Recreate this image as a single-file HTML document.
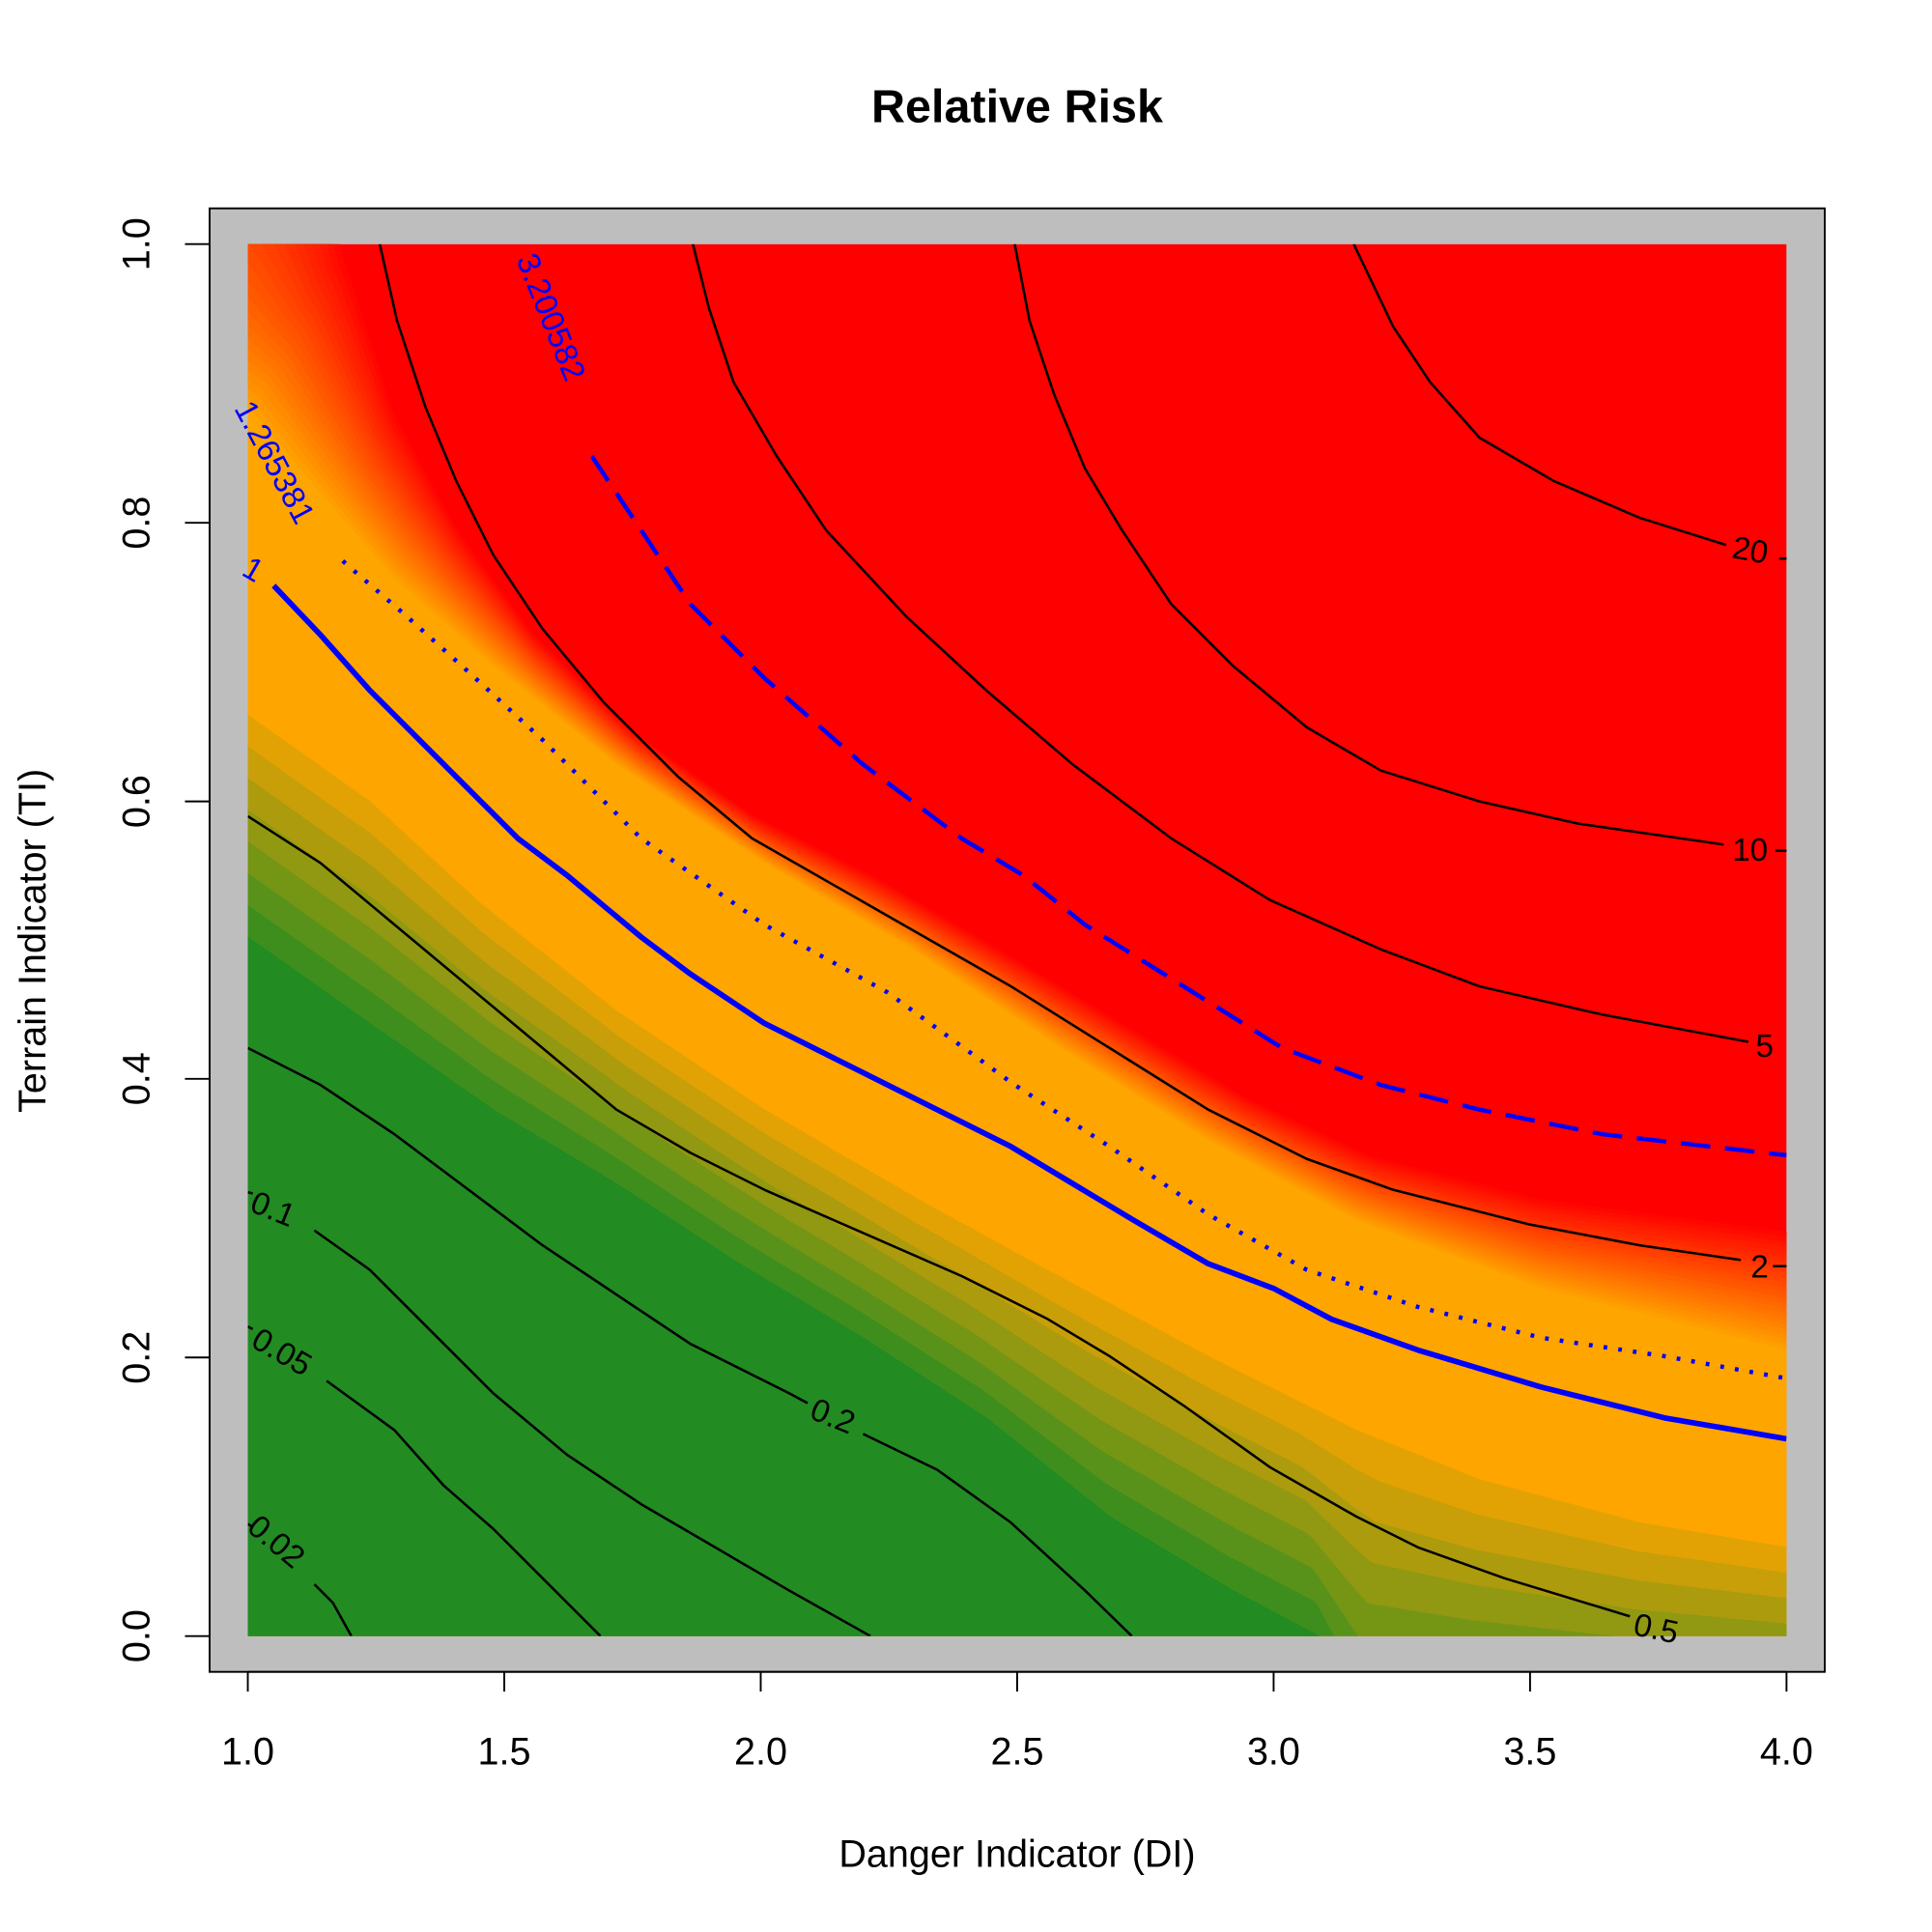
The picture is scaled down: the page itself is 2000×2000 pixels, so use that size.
<!DOCTYPE html>
<html><head><meta charset="utf-8"><style>
html,body{margin:0;padding:0;background:#fff}
svg{display:block}
text{font-family:"Liberation Sans",Arial,sans-serif}
</style></head><body>
<svg id="s" width="2000" height="2000" viewBox="0 0 1567 1567" xmlns="http://www.w3.org/2000/svg">
<defs><clipPath id="c"><rect x="201" y="198" width="1248" height="1129"/></clipPath></defs>
<rect width="1567" height="1567" fill="#fff"/>
<rect x="170" y="169" width="1310" height="1187" fill="#BEBEBE" stroke="#000" stroke-width="1.5"/>
<g id="fill" clip-path="url(#c)"><rect x="201" y="198" width="1248" height="1129" fill="#FF0000"/></g>
<g id="lines" clip-path="url(#c)" fill="none"></g>
<g font-size="26" fill="#000">
<text x="1405" y="455" transform="rotate(10 1420 447)">20</text>
<text x="1405" y="698">10</text>
<text x="1424" y="857">5</text>
<text x="1420" y="1036">2</text>
<text x="1325" y="1330" transform="rotate(12 1345 1322)">0.5</text>
<text x="657" y="1158" transform="rotate(22 677 1150)">0.2</text>
<text x="203" y="990" transform="rotate(22 223 982)">0.1</text>
<text x="203" y="1105" transform="rotate(30 228 1097)">0.05</text>
<text x="198" y="1260" transform="rotate(40 225 1252)">0.02</text>
</g>
<g font-size="26" fill="#0000FF">
<text x="198" y="472" transform="rotate(30 208 463)">1</text>
<text x="195" y="338" transform="rotate(62 198 330)">1.265381</text>
<text x="424" y="218" transform="rotate(68 427 210)">3.200582</text>
</g>
<g stroke="#000" stroke-width="1.5">
<line x1="201" y1="1356" x2="1449" y2="1356"/>
<line x1="201" y1="1356" x2="201" y2="1372"/><line x1="409" y1="1356" x2="409" y2="1372"/><line x1="617" y1="1356" x2="617" y2="1372"/><line x1="825" y1="1356" x2="825" y2="1372"/><line x1="1033" y1="1356" x2="1033" y2="1372"/><line x1="1241" y1="1356" x2="1241" y2="1372"/><line x1="1449" y1="1356" x2="1449" y2="1372"/>
<line x1="170" y1="198" x2="170" y2="1327"/>
<line x1="150" y1="198" x2="170" y2="198"/><line x1="150" y1="424" x2="170" y2="424"/><line x1="150" y1="650" x2="170" y2="650"/><line x1="150" y1="875" x2="170" y2="875"/><line x1="150" y1="1101" x2="170" y2="1101"/><line x1="150" y1="1327" x2="170" y2="1327"/>
</g>
<g font-size="31" text-anchor="middle">
<text x="201" y="1431">1.0</text><text x="409" y="1431">1.5</text><text x="617" y="1431">2.0</text><text x="825" y="1431">2.5</text><text x="1033" y="1431">3.0</text><text x="1241" y="1431">3.5</text><text x="1449" y="1431">4.0</text>
<text transform="translate(121 198) rotate(-90)">1.0</text>
<text transform="translate(121 424) rotate(-90)">0.8</text>
<text transform="translate(121 650) rotate(-90)">0.6</text>
<text transform="translate(121 875) rotate(-90)">0.4</text>
<text transform="translate(121 1101) rotate(-90)">0.2</text>
<text transform="translate(121 1327) rotate(-90)">0.0</text>
<text x="825" y="1514">Danger Indicator (DI)</text>
<text transform="translate(37 763) rotate(-90)">Terrain Indicator (TI)</text>
<text x="825" y="99" font-weight="bold" font-size="38">Relative Risk</text>
</g>
</svg>
<script>
var NS="http://www.w3.org/2000/svg";
function rs(p,n){var d=[0];for(var i=1;i<p.length;i++)d.push(d[i-1]+Math.hypot(p[i][0]-p[i-1][0],p[i][1]-p[i-1][1]));var L=d[d.length-1],o=[],j=0;for(var k=0;k<n;k++){var t=L*k/(n-1);while(j<p.length-2&&d[j+1]<t)j++;var f=(t-d[j])/((d[j+1]-d[j])||1);f=Math.max(0,Math.min(1,f));o.push([p[j][0]+f*(p[j+1][0]-p[j][0]),p[j][1]+f*(p[j+1][1]-p[j][1])]);}return o;}
var R=rs([[270,100],[280,198],[320,330],[370,425],[430,510],[510,590],[610,660],[710,710],[810,768],[910,828],[1010,888],[1110,935],[1250,970],[1449,995],[1550,1005]],300);
var O=rs([[100,280],[201,330],[260,400],[320,470],[400,540],[500,620],[620,700],[740,770],[860,850],[980,925],[1100,990],[1250,1045],[1449,1095],[1550,1105]],300);
var Y=rs([[100,520],[201,580],[300,650],[390,733],[500,820],[620,900],[740,970],[840,1025],[980,1100],[1100,1160],[1200,1200],[1330,1235],[1449,1255],[1550,1270]],300);
var G=rs([[100,700],[201,760],[300,830],[400,900],[500,960],[600,1025],[700,1085],[800,1150],[900,1230],[1000,1290],[1070,1327],[1100,1400],[1550,1400]],300);
function lp(a,b,t){return a.map(function(p,i){return[p[0]+t*(b[i][0]-p[0]),p[1]+t*(b[i][1]-p[1])];});}
function lc(a,b,t){return"rgb("+a.map(function(v,i){return Math.round(v+t*(b[i]-v));}).join(",")+")";}
var fg=document.getElementById("fill");
function poly(c,col){var e=document.createElementNS(NS,"polygon");var pts=c.concat([[1600,1600],[0,1600],[0,0]]);e.setAttribute("points",pts.map(function(p){return p[0].toFixed(1)+","+p[1].toFixed(1);}).join(" "));e.setAttribute("fill",col);e.setAttribute("stroke",col);e.setAttribute("stroke-width","0.6");fg.appendChild(e);}
var red=[255,0,0],org=[255,165,0],grn=[34,139,34];
for(var k=1;k<=24;k++){var t=k/24;poly(lp(R,O,t),lc(red,org,t));}
for(var j=0;j<8;j++){poly(lp(Y,G,j/7),lc(org,grn,(j+1)/8));}
var lg=document.getElementById("lines");
function pl(p,col,w,da){var e=document.createElementNS(NS,"polyline");e.setAttribute("points",p.map(function(q){return q.join(",");}).join(" "));e.setAttribute("stroke",col);e.setAttribute("stroke-width",w);e.setAttribute("stroke-linejoin","round");if(da)e.setAttribute("stroke-dasharray",da);lg.appendChild(e);}
var k2="#000";
pl([[1098,198],[1130,265],[1160,310],[1200,355],[1260,390],[1330,420],[1400,442]],k2,2);
pl([[1443,453],[1452,453]],k2,2);
pl([[823,198],[835,260],[855,320],[880,380],[910,430],[950,490],[1000,540],[1060,590],[1120,625],[1200,650],[1280,668],[1398,685]],k2,2);
pl([[1440,690],[1452,690]],k2,2);
pl([[562,198],[575,250],[595,310],[630,370],[670,430],[735,500],[800,560],[870,620],[950,680],[1030,730],[1120,770],[1200,800],[1300,823],[1418,845]],k2,2);
pl([[308,198],[322,260],[345,330],[370,390],[400,450],[440,510],[490,570],[550,630],[610,680],[680,720],[750,760],[820,800],[900,850],[980,900],[1060,940],[1130,965],[1240,993],[1330,1010],[1412,1022]],k2,2);
pl([[1438,1027],[1452,1027]],k2,2);
pl([[201,662],[260,700],[320,750],[380,800],[440,850],[500,900],[560,935],[620,965],[700,1000],[780,1035],[850,1070],[900,1100],[960,1140],[1030,1190],[1100,1230],[1150,1255],[1220,1280],[1322,1311]],k2,2);
pl([[201,850],[260,880],[320,920],[380,965],[440,1010],[500,1050],[560,1090],[640,1130],[655,1138]],k2,2);
pl([[700,1163],[760,1192],[820,1235],[880,1290],[918,1327]],k2,2);
pl([[255,998],[300,1030],[350,1080],[400,1130],[460,1180],[520,1220],[580,1255],[640,1290],[706,1327]],k2,2);
pl([[201,967],[205,968]],k2,2);
pl([[265,1120],[320,1160],[360,1205],[400,1240],[440,1280],[487,1327]],k2,2);
pl([[201,1076],[205,1078]],k2,2);
pl([[255,1285],[270,1300],[285,1327]],k2,2);
pl([[201,1236],[204,1238]],k2,2);
pl([[480,370],[520,430],[560,490],[620,550],[700,620],[780,680],[830,710],[880,750],[960,800],[1040,850],[1120,880],[1200,900],[1300,920],[1449,937]],"#0000FF",3.5,"24,12");
pl([[278,455],[330,500],[380,545],[440,600],[520,680],[620,750],[720,805],[823,880],[900,930],[980,985],[1060,1030],[1150,1060],[1250,1085],[1350,1100],[1449,1118]],"#0000FF",3.5,"3,9");
pl([[222,475],[260,515],[300,560],[340,600],[390,650],[420,680],[460,710],[520,760],[560,790],[620,830],[680,860],[720,880],[760,900],[820,930],[870,960],[920,990],[980,1025],[1033,1045],[1080,1070],[1150,1095],[1250,1125],[1350,1150],[1449,1167]],"#0000FF",4.5);
</script>
</body></html>
